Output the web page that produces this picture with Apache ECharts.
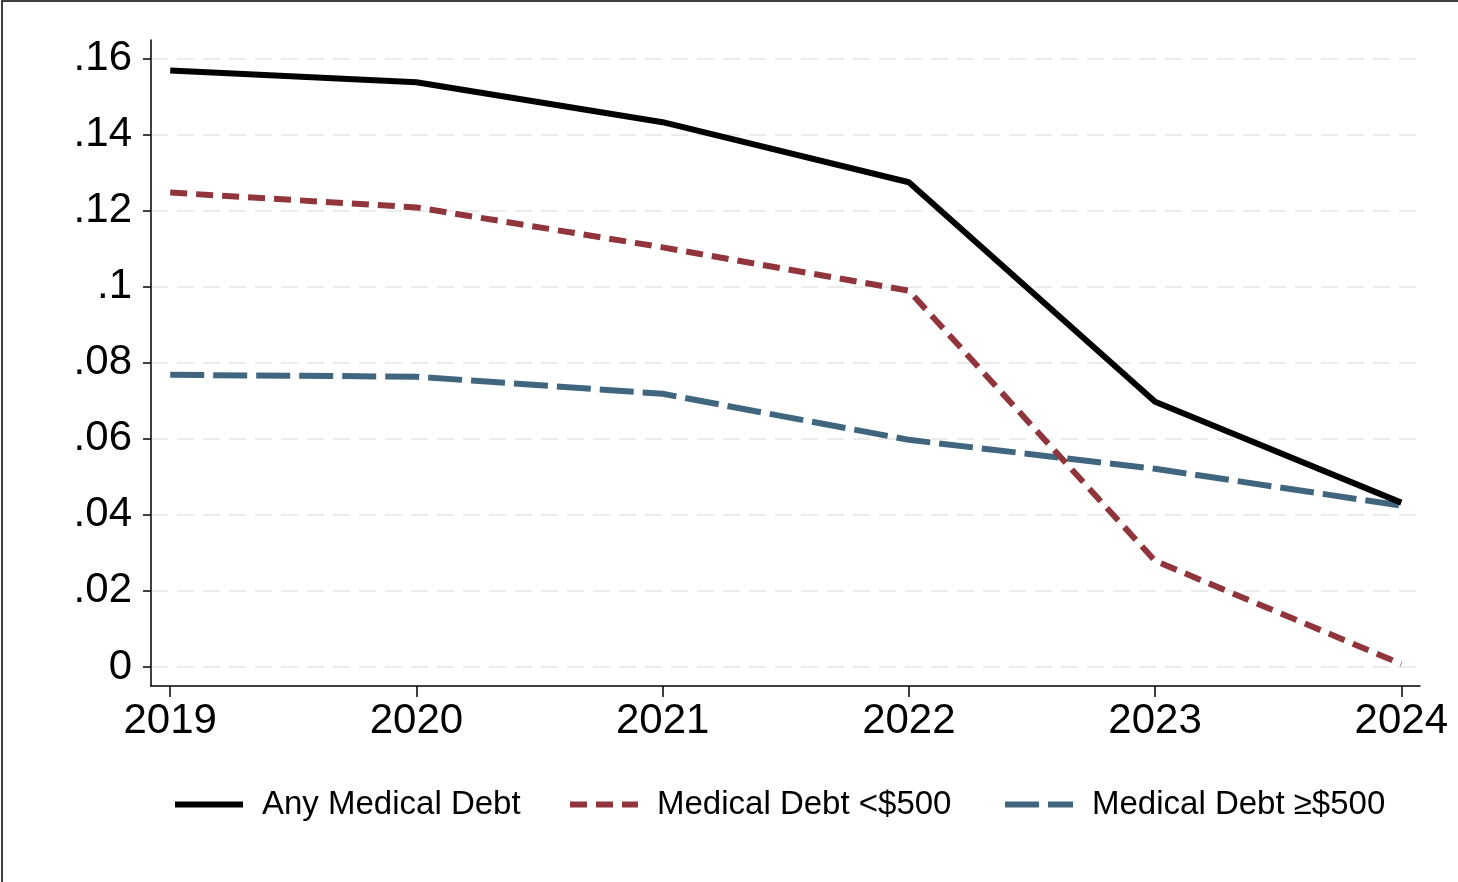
<!DOCTYPE html>
<html>
<head>
<meta charset="utf-8">
<script src="https://cdn.jsdelivr.net/npm/echarts@6/dist/echarts.min.js"></script>
<style>html,body{margin:0;padding:0;background:#fff;}#c{width:1458px;height:882px;}</style>
</head>
<body>
<div id="c"></div>
<script>
const years = [2019, 2020, 2021, 2022, 2023, 2024];
const yTicks = [0, 0.02, 0.04, 0.06, 0.08, 0.10, 0.12, 0.14, 0.16];
const seriesNames = ['Any Medical Debt', 'Medical Debt <$500', 'Medical Debt \u2265$500'];
const anyDebt = [0.1568, 0.1537, 0.1432, 0.1274, 0.0697, 0.0432];
const under500 = [0.1247, 0.1208, 0.1103, 0.0989, 0.0279, 0.0008];
const over500 = [0.0768, 0.0763, 0.0718, 0.0597, 0.0521, 0.0424];

const FONT = 'Liberation Sans, Arial, sans-serif';
const pairs = arr => years.map((y, i) => [y, arr[i]]);
const fmtY = v => {
  if (Math.abs(v) < 1e-9) return '0';
  return String(+v.toFixed(2)).replace(/^0/, '');
};

const chart = echarts.init(document.getElementById('c'), null, {renderer: 'canvas'});
const legendText = {fontFamily: FONT, fontSize: 33, color: '#000', padding: [0, 0, 0, 14]};
const mkLegend = (name, left) => ({
  data: [name], left: left, top: 788, padding: 0, itemWidth: 68, itemHeight: 6,
  textStyle: legendText, selectedMode: false,
  itemStyle: {opacity: 0},
  lineStyle: {width: 6}
});

chart.setOption({
  animation: false,
  backgroundColor: '#fff',
  graphic: [{
    type: 'rect', shape: {x: 2, y: 1, width: 1500, height: 1000},
    style: {fill: 'none', stroke: '#000', lineWidth: 1.5}, silent: true
  }],
  grid: {left: 151, right: 38, top: 40, bottom: 196, containLabel: false},
  legend: [
    mkLegend(seriesNames[0], 172),
    mkLegend(seriesNames[1], 567),
    mkLegend(seriesNames[2], 1002)
  ],
  xAxis: {
    type: 'value', min: 2018.922, max: 2024.076,
    axisLine: {onZero: false, lineStyle: {color: '#000', width: 1.5}},
    axisTick: {show: true, length: 11, customValues: years, lineStyle: {color: '#000', width: 1.5}},
    axisLabel: {customValues: years, margin: 14, fontFamily: FONT, fontSize: 42, color: '#000',
      formatter: v => String(Math.round(v))},
    splitLine: {show: false}
  },
  yAxis: {
    type: 'value', min: -0.005, max: 0.1648,
    axisLine: {show: true, onZero: false, lineStyle: {color: '#000', width: 1.5}},
    axisTick: {show: true, length: 8, customValues: yTicks, lineStyle: {color: '#000', width: 1.5}},
    axisLabel: {customValues: yTicks, margin: 19, fontFamily: FONT, fontSize: 42, color: '#000',
      padding: [3, 0, 0, 0], formatter: fmtY},
    splitLine: {show: true, lineStyle: {color: '#ebebeb', width: 2, type: [17, 9]}}
  },
  series: [
    {name: seriesNames[0], type: 'line', data: pairs(anyDebt), symbol: 'none',
      lineStyle: {color: '#000', width: 6}, itemStyle: {color: '#000'}, z: 5},
    {name: seriesNames[1], type: 'line', data: pairs(under500), symbol: 'none',
      lineStyle: {color: '#90353b', width: 6, type: [17, 9]}, itemStyle: {color: '#90353b'}, z: 4},
    {name: seriesNames[2], type: 'line', data: pairs(over500), symbol: 'none',
      lineStyle: {color: '#40667f', width: 6, type: [34, 9]}, itemStyle: {color: '#40667f'}, z: 3}
  ]
});
</script>
</body>
</html>
